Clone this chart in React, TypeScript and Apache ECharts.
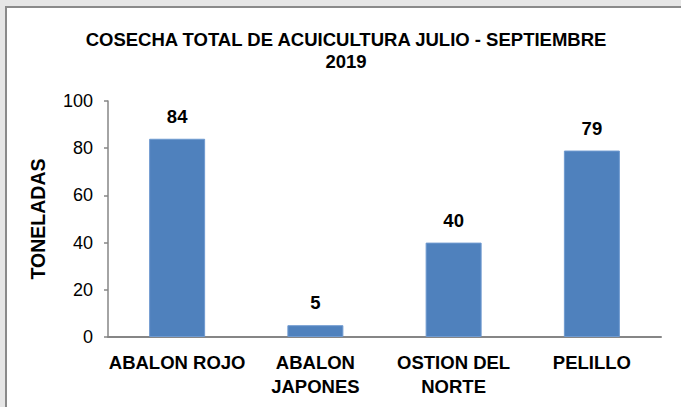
import React, { useEffect, useRef } from "react";
import * as echarts from "echarts";

const categories = ["ABALON ROJO", "ABALON\nJAPONES", "OSTION DEL\nNORTE", "PELILLO"];
const values = [84, 5, 40, 79];
const titleLines = ["COSECHA TOTAL DE ACUICULTURA JULIO - SEPTIEMBRE", "2019"];
const yAxisName = "TONELADAS";

export default function App() {
  const ref = useRef<HTMLDivElement>(null);
  useEffect(() => {
    if (!ref.current) return;
    const chart = echarts.init(ref.current, undefined, { renderer: "svg" });
    const font = "Liberation Sans, Arial, sans-serif";
    chart.setOption({
      animation: false,
      textStyle: { fontFamily: font },
      graphic: [
        {
          type: "text",
          x: 346,
          y: 50,
          style: {
            text: titleLines.join("\n"),
            font: `bold 18.5px ${font}`,
            fill: "#000",
            align: "center",
            verticalAlign: "middle",
            lineHeight: 22,
          },
        },
      ],
      grid: { left: 108, right: 20, top: 101, bottom: 70 },
      xAxis: {
        type: "category",
        data: categories,
        axisLine: { show: true, lineStyle: { color: "#868686", width: 2 } },
        axisTick: { show: false },
        axisLabel: {
          interval: 0,
          color: "#000",
          fontWeight: "bold",
          fontSize: 18.5,
          lineHeight: 24,
          margin: 13,
          fontFamily: font,
        },
      },
      yAxis: {
        type: "value",
        min: 0,
        max: 100,
        interval: 20,
        name: yAxisName,
        nameLocation: "middle",
        nameRotate: 90,
        nameGap: 60,
        nameTextStyle: { color: "#000", fontWeight: "bold", fontSize: 19.5, fontFamily: font },
        axisLine: { show: true, lineStyle: { color: "#868686", width: 1.5 } },
        axisTick: { show: true, length: 4, lineStyle: { color: "#868686", width: 1.5 } },
        splitLine: { show: false },
        axisLabel: { color: "#000", fontSize: 18, margin: 15, fontFamily: font },
      },
      series: [
        {
          type: "bar",
          data: values,
          barWidth: 56,
          itemStyle: { color: "#4f81bd", borderColor: "#6f9ad0", borderWidth: 1 },
          label: {
            show: true,
            position: "top",
            distance: 13,
            color: "#000",
            fontWeight: "bold",
            fontSize: 18.5,
            fontFamily: font,
          },
        },
      ],
    });
    return () => chart.dispose();
  }, []);
  return (
    <div style={{ position: "fixed", left: 0, top: 0, width: 681, height: 407, background: "#e6e6e6", overflow: "hidden" }}>
      <div
        style={{
          position: "absolute",
          left: 5,
          top: 6,
          width: 690,
          height: 420,
          background: "#fff",
          borderLeft: "2px solid #8a8a8a",
          borderTop: "2px solid #8a8a8a",
        }}
      />
      <div ref={ref} style={{ position: "absolute", left: 0, top: 0, width: 681, height: 407 }} />
    </div>
  );
}
